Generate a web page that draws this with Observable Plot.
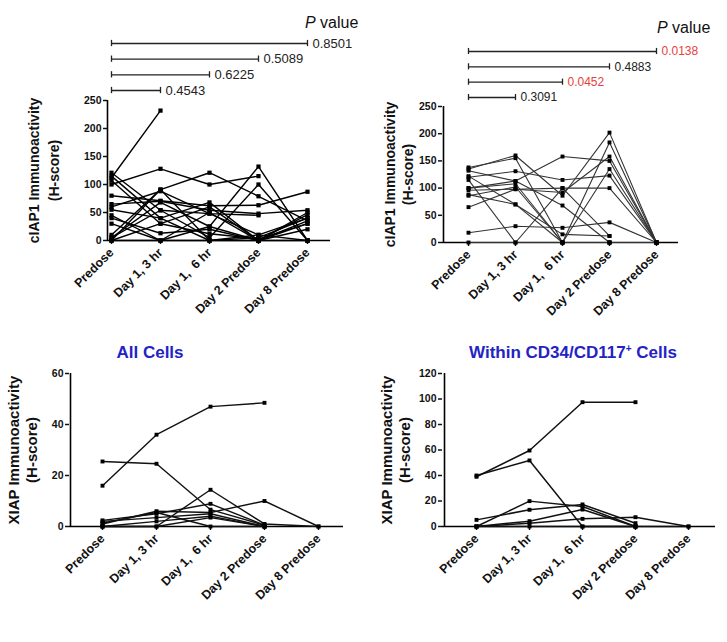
<!DOCTYPE html>
<html><head><meta charset="utf-8">
<script src="https://cdn.jsdelivr.net/npm/d3@7"></script>
<script src="https://cdn.jsdelivr.net/npm/@observablehq/plot@0.6"></script>
<style>
body{margin:0;background:#fff;font-family:"Liberation Sans",Arial,sans-serif;}
#root{position:relative;width:727px;height:642px;overflow:hidden;background:#fff;}
.panel{position:absolute;}
.panel svg{position:absolute;left:0;top:0;}
.ptitle{position:absolute;font-size:16px;line-height:18px;color:#111;white-space:nowrap;}
.ctitle{position:absolute;font-size:17px;line-height:20px;font-weight:bold;color:#2323c4;white-space:nowrap;transform:translateX(-50%);}
.ctitle sup{font-size:10px;vertical-align:6px;line-height:0;}
</style></head><body><div id="root"></div>
<script>
const FONT = '"Liberation Sans", Arial, sans-serif';
const timepoints = ["Predose", "Day 1, 3 hr", "Day 1,  6 hr", "Day 2 Predose", "Day 8 Predose"];

// cIAP1 immunoactivity (H-score), all cells: one row per patient
const ciap1All = [
  [112, 232, null, null, null],
  [100, 128, 100, 115, null],
  [0, 91, 121, 79, 35],
  [5, 68, 25, 132, 0],
  [121, 54, 5, 100, 0],
  [80, 71, 62, 63, 87],
  [65, 70, 54, 48, 54],
  [60, 88, 48, 10, 40],
  [55, 40, 68, 0, 46],
  [107, 30, 12, 3, 30],
  [40, 13, 20, 0, 35],
  [30, 0, 50, 0, 20],
  [10, 91, 0, 5, 40],
  [0, 30, 60, 0, 0],
  [115, 40, 0, 0, 50],
  [45, 0, 0, 10, 0],
  [0, 0, 25, 0, 30],
  [5, 54, 48, 45, null]
];
// cIAP1 immunoactivity (H-score), within CD34/CD117+ cells
const ciap1CD34 = [
  [135, 160, 86, 202, 0],
  [138, 155, 0, 184, 0],
  [132, 113, 158, 150, 0],
  [120, 131, 115, 123, 0],
  [100, 108, 0, 135, 0],
  [96, 98, 92, 158, 0],
  [86, 102, 0, 0, null],
  [65, 98, 100, 100, 0],
  [18, 30, 27, 37, 0],
  [115, 0, 100, 12, null],
  [122, 70, 15, 12, null],
  [100, 113, 68, 0, null],
  [88, 70, 0, 0, null],
  [0, 0, 0, 0, 0]
];
// XIAP immunoactivity (H-score), all cells
const xiapAll = [
  [16, 36, 47, 48.5, null],
  [25.5, 24.6, 6.6, 0.5, null],
  [0, 0, 14.4, 1, 0],
  [1, 6, 5.5, 10, 0],
  [2.4, 5, 8.9, 0.5, null],
  [2, 3.5, 5, 0, null],
  [0, 2, 4, 0, null],
  [1.3, 5.5, 0, 0, null],
  [0, 0, 3.5, 0, null]
];
// XIAP immunoactivity (H-score), within CD34/CD117+ cells
const xiapCD34 = [
  [39, 59.6, 97.5, 97.5, null],
  [40, 51.8, 0, 0, null],
  [0, 19.9, 15.7, 0, null],
  [5.2, 13.1, 17.3, 2.6, null],
  [0, 4.2, 13.3, 0, 0],
  [0, 2.6, 6, 7.3, 0],
  [0, 0, 0, 0, null]
];

// P value comparisons vs Predose (top row first)
const comparisons = ["Day 8 Predose", "Day 2 Predose", "Day 1,  6 hr", "Day 1, 3 hr"];
const pAll = ["0.8501", "0.5089", "0.6225", "0.4543"];
const pCD34 = ["0.0138", "0.4883", "0.0452", "0.3091"];

const ciapTicks = [0, 50, 100, 150, 200, 250];
const xiapAllTicks = [0, 20, 40, 60];
const xiapCD34Ticks = [0, 20, 40, 60, 80, 100, 120];

const root = document.getElementById("root");

function drawPanel(cfg) {
  const box = document.createElement("div");
  box.className = "panel";
  Object.assign(box.style, {left: cfg.left + "px", top: cfg.top + "px", width: cfg.w + "px", height: cfg.h + "px"});
  root.appendChild(box);
  const data = cfg.rows.flatMap((r, i) => r.map((v, j) => ({patient: i, time: timepoints[j], value: v})));
  const yMax = d3.max(cfg.ticks);
  const xOpt = {type: "point", domain: timepoints, padding: 0, insetLeft: cfg.il, insetRight: cfg.ir};
  const common = {width: cfg.w, marginLeft: cfg.ml, marginRight: cfg.mr,
    style: {background: "transparent", overflow: "visible", fontFamily: FONT, color: "#111"}};

  if (cfg.pvals) {
    const br = comparisons.map((t, i) => ({target: t, p: cfg.pvals[i], row: i}));
    const brk = Plot.plot({
      ...common, height: cfg.bh, marginTop: 0, marginBottom: 0,
      x: {...xOpt, axis: null},
      y: {domain: [0, comparisons.length - 1], range: cfg.brRange, axis: null},
      marks: [
        Plot.ruleY(br, {x1: () => timepoints[0], x2: "target", y: "row", stroke: "#222", strokeWidth: 1.3}),
        Plot.ruleX(br, {x: () => timepoints[0], y1: d => d.row - 0.2, y2: d => d.row + 0.2, stroke: "#222", strokeWidth: 1.3}),
        Plot.ruleX(br, {x: "target", y1: d => d.row - 0.2, y2: d => d.row + 0.2, stroke: "#222", strokeWidth: 1.3}),
        Plot.text(br.filter(d => +d.p >= 0.05), {x: "target", y: "row", text: "p", textAnchor: "start", dx: 5, fontSize: cfg.pSize, fill: "#222"}),
        Plot.text(br.filter(d => +d.p < 0.05), {x: "target", y: "row", text: "p", textAnchor: "start", dx: 5, fontSize: cfg.pSize, fill: "#e8413c"})
      ]
    });
    box.appendChild(brk);
    const pt = document.createElement("div");
    pt.className = "ptitle";
    pt.innerHTML = "<i>P</i> value";
    Object.assign(pt.style, {left: cfg.pTitle[0] + "px", top: cfg.pTitle[1] + "px"});
    box.appendChild(pt);
  }

  const main = Plot.plot({
    ...common, height: cfg.h, marginTop: cfg.mt, marginBottom: cfg.mb,
    x: xOpt,
    y: {domain: [0, yMax]},
    marks: [
      Plot.axisY({ticks: cfg.ticks, tickSize: 4, tickPadding: 2, label: null, fontSize: 10.5, fontWeight: "bold", strokeWidth: 1.5}),
      Plot.axisX({tickSize: 4, tickPadding: 6, tickRotate: -45, label: null, fontSize: 12.5, fontWeight: "bold", strokeWidth: 1.5}),
      // axis lines
      Plot.ruleY([0], {strokeWidth: 1.6, stroke: "#000"}),
      Plot.ruleX([timepoints[0]], {dx: -cfg.il, y1: 0, y2: yMax, strokeWidth: 1.6, stroke: "#000"}),
      Plot.line(data, {x: "time", y: "value", z: "patient", stroke: cfg.lineColor, strokeWidth: cfg.lineWidth}),
      Plot.dot(data, {x: "time", y: "value", symbol: "square", r: cfg.r, fill: "#000"}),
      Plot.text([cfg.ylabel], {frameAnchor: "left", textAnchor: "middle", rotate: -90, dx: cfg.labelDx, fontSize: cfg.labelSize, fontWeight: "bold", lineHeight: cfg.lh, fill: "#111"})
    ]
  });
  box.appendChild(main);

  if (cfg.title) {
    const t = document.createElement("div");
    t.className = "ctitle";
    t.innerHTML = cfg.title;
    Object.assign(t.style, {left: cfg.titlePos[0] + "px", top: cfg.titlePos[1] + "px"});
    box.appendChild(t);
  }
}

drawPanel({left: 0, top: 0, w: 363, h: 330, ml: 107, mr: 33, mt: 100, mb: 90, il: 4, ir: 23,
  rows: ciap1All, ticks: ciapTicks, lineColor: "#000", lineWidth: 1.4, r: 2.4,
  ylabel: "cIAP1 Immunoactivity\n(H-score)", labelDx: -65, labelSize: 14, lh: 1.4,
  pvals: pAll, bh: 100, brRange: [43, 90], pSize: 13, pTitle: [305, 14]});

drawPanel({left: 363, top: 0, w: 364, h: 330, ml: 79, mr: 49, mt: 106, mb: 88, il: 25, ir: 22,
  rows: ciap1CD34, ticks: ciapTicks, lineColor: "#333", lineWidth: 1.1, r: 2.2,
  ylabel: "cIAP1 Immunoactivity\n(H-score)", labelDx: -44, labelSize: 14, lh: 1.25,
  pvals: pCD34, bh: 105, brRange: [51, 97], pSize: 12, pTitle: [294, 19]});

drawPanel({left: 0, top: 330, w: 363, h: 312, ml: 69, mr: 20, mt: 43, mb: 116, il: 32, ir: 25,
  rows: xiapAll, ticks: xiapAllTicks, lineColor: "#111", lineWidth: 1.4, r: 2.2,
  ylabel: "XIAP Immunoactivity\n(H-score)", labelDx: -47, labelSize: 15, lh: 1.15,
  title: "All Cells", titlePos: [150, 13]});

drawPanel({left: 363, top: 330, w: 364, h: 312, ml: 79, mr: 12, mt: 43, mb: 116, il: 32, ir: 26,
  rows: xiapCD34, ticks: xiapCD34Ticks, lineColor: "#111", lineWidth: 1.5, r: 2.2,
  ylabel: "XIAP Immunoactivity\n(H-score)", labelDx: -47, labelSize: 15, lh: 1.15,
  title: "Within CD34/CD117<sup>+</sup> Cells", titlePos: [210, 13]});
</script></body></html>
